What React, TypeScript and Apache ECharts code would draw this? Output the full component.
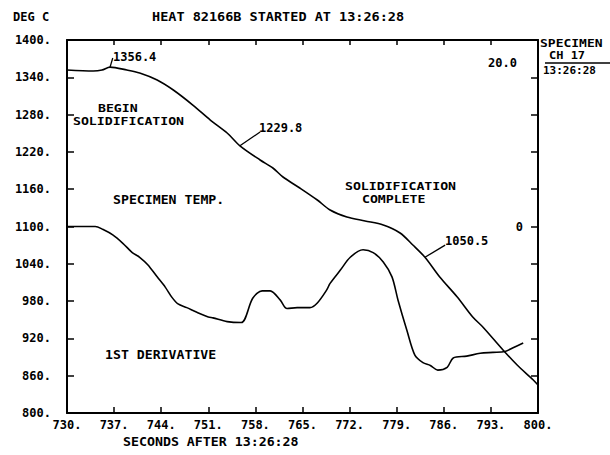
import React, { useEffect, useRef } from "react";
import * as echarts from "echarts";

// Specimen temperature (deg C) vs seconds after 13:26:28
const tempSeconds = [730.0, 733.9, 735.2, 736.4, 738.9, 740.8, 743.4, 745.8, 748.7, 751.3, 753.8, 755.7, 758.7, 760.6, 762.1, 764.6, 767.2, 769.1, 771.6, 774.3, 777.0, 779.5, 781.4, 783.2, 785.4, 788.0, 790.3, 791.8, 794.8, 796.9, 799.3, 800.0];
const tempValues = [1351.7, 1350.1, 1351.7, 1356.4, 1351.7, 1346.9, 1335.7, 1319.6, 1295.4, 1271.3, 1250.4, 1229.8, 1207.0, 1194.1, 1179.6, 1161.9, 1142.6, 1126.6, 1115.3, 1108.9, 1102.4, 1089.6, 1070.3, 1050.5, 1018.8, 986.6, 954.4, 938.4, 901.4, 877.2, 853.1, 845.1];

// 1st derivative (right-hand scale, 0 at the 1100 level, 20.0 at top)
const derivSeconds = [730.0, 734.2, 735.3, 736.8, 738.3, 739.7, 740.8, 742.0, 743.4, 744.6, 745.6, 746.5, 747.8, 749.3, 751.0, 751.7, 753.8, 755.9, 757.6, 759.0, 760.2, 761.7, 762.7, 764.2, 766.1, 767.2, 768.6, 769.1, 770.6, 772.1, 774.0, 775.5, 777.0, 778.3, 779.2, 780.5, 781.7, 782.9, 784.0, 785.1, 786.5, 787.4, 789.4, 791.4, 793.3, 795.1, 796.3, 797.8];
const derivValues = [0.0, 0.0, -0.3, -0.9, -1.8, -2.8, -3.3, -4.1, -5.4, -6.5, -7.6, -8.3, -8.7, -9.2, -9.7, -9.8, -10.2, -10.3, -7.7, -6.9, -6.9, -7.9, -8.8, -8.7, -8.7, -8.2, -6.8, -6.1, -4.7, -3.3, -2.5, -2.8, -3.8, -5.4, -7.9, -11.1, -13.8, -14.6, -14.9, -15.4, -15.1, -14.1, -13.9, -13.6, -13.5, -13.4, -13.0, -12.5];

// Axis ranges
const xRange = { min: 730, max: 800, step: 7 };
const tempRange = { min: 800, max: 1400, step: 60 };
const derivRange = { min: -20, max: 20, step: 4 };

// Annotated values
const peakLabels = ["1356.4", "1229.8", "1050.5"];

const FONT = '"DejaVu Sans Mono", monospace';

export default function App() {
  const ref = useRef<HTMLDivElement>(null);

  useEffect(() => {
    if (!ref.current) return;
    const chart = echarts.init(ref.current, undefined, { renderer: "svg" });

    const txt = (text: string, x: number, y: number, size = 12, sx = 1) => ({
      type: "text",
      x,
      y,
      scaleX: sx,
      silent: true,
      style: {
        text,
        fill: "#000",
        font: `bold ${size}px ${FONT}`,
        fontFamily: FONT,
        fontSize: size,
        fontWeight: "bold",
        align: "left",
        textAlign: "left",
        verticalAlign: "middle",
        textVerticalAlign: "middle",
      },
    });

    const axisColor = "#000";
    const labelStyle = { color: "#000", fontFamily: FONT, fontWeight: "bold" as const, fontSize: 12 };

    chart.setOption({
      animation: false,
      backgroundColor: "#fff",
      grid: { left: 67, right: 72, top: 40, bottom: 42, containLabel: false },
      xAxis: [
        {
          type: "value",
          min: xRange.min,
          max: xRange.max,
          interval: xRange.step,
          position: "bottom",
          axisLine: { show: true, onZero: false, lineStyle: { color: axisColor, width: 2 } },
          axisTick: { show: true, inside: true, length: 6, lineStyle: { color: axisColor, width: 1.5 } },
          axisLabel: { ...labelStyle, formatter: (v: number) => `${v}.`, margin: 6 },
          splitLine: { show: false },
        },
        {
          type: "value",
          min: xRange.min,
          max: xRange.max,
          interval: xRange.step,
          position: "top",
          axisLine: { show: true, onZero: false, lineStyle: { color: axisColor, width: 2 } },
          axisTick: { show: true, inside: true, length: 5, lineStyle: { color: axisColor, width: 1.5 } },
          axisLabel: { show: false },
          splitLine: { show: false },
        },
      ],
      yAxis: [
        {
          type: "value",
          min: tempRange.min,
          max: tempRange.max,
          interval: tempRange.step,
          position: "left",
          axisLine: { show: true, onZero: false, lineStyle: { color: axisColor, width: 2 } },
          axisTick: { show: true, inside: true, length: 7, lineStyle: { color: axisColor, width: 1.5 } },
          axisLabel: { ...labelStyle, formatter: (v: number) => `${v}.`, margin: 16 },
          splitLine: { show: false },
        },
        {
          type: "value",
          min: derivRange.min,
          max: derivRange.max,
          interval: derivRange.step,
          position: "right",
          axisLine: { show: true, onZero: false, lineStyle: { color: axisColor, width: 2 } },
          axisTick: { show: true, inside: true, length: 7, lineStyle: { color: axisColor, width: 1.5 } },
          axisLabel: {
            ...labelStyle,
            inside: true,
            margin: 15,
            formatter: (v: number) => (v === 0 ? "0" : ""),
          },
          splitLine: { show: false },
        },
      ],
      series: [
        {
          name: "SPECIMEN TEMP.",
          type: "line",
          xAxisIndex: 0,
          yAxisIndex: 0,
          showSymbol: false,
          symbol: "none",
          smooth: 0.3,
          data: tempSeconds.map((x, i) => [x, tempValues[i]]),
          lineStyle: { color: "#000", width: 1.6 },
          markLine: {
            silent: true,
            symbol: ["none", "none"],
            label: { show: false },
            lineStyle: { color: "#000", width: 1.3, type: "solid" },
            data: [
              [{ coord: [tempSeconds[3], tempValues[3]] }, { coord: [736.8, 1371] }],
              [{ coord: [tempSeconds[11], tempValues[11]] }, { coord: [758.7, 1252] }],
              [{ coord: [tempSeconds[23], tempValues[23]] }, { coord: [786.2, 1070] }],
            ],
          },
        },
        {
          name: "1ST DERIVATIVE",
          type: "line",
          xAxisIndex: 0,
          yAxisIndex: 1,
          showSymbol: false,
          symbol: "none",
          smooth: 0.3,
          data: derivSeconds.map((x, i) => [x, derivValues[i]]),
          lineStyle: { color: "#000", width: 1.6 },
        },
      ],
      graphic: [
        txt("DEG C", 13, 17),
        txt("HEAT 82166B STARTED AT 13:26:28", 152, 17, 13, 1.04),
        txt(peakLabels[0], 113, 57),
        txt(peakLabels[1], 259, 128),
        txt(peakLabels[2], 445, 241),
        txt("20.0", 488, 63),
        txt("BEGIN", 98, 108, 11, 1.2),
        txt("SOLIDIFICATION", 73, 121, 11, 1.2),
        txt("SPECIMEN TEMP.", 113, 200, 12, 1.1),
        txt("SOLIDIFICATION", 345, 186, 11, 1.2),
        txt("COMPLETE", 362, 199, 11, 1.2),
        txt("1ST DERIVATIVE", 105, 355, 12, 1.1),
        txt("SPECIMEN", 540, 44, 10, 1.3),
        txt("CH 17", 549, 56, 10, 1.2),
        {
          type: "line",
          silent: true,
          shape: { x1: 545, y1: 63, x2: 610, y2: 63 },
          style: { stroke: "#000", lineWidth: 1.5 },
        },
        txt("13:26:28", 543, 70, 10, 1.1),
        txt("SECONDS AFTER 13:26:28", 123, 442, 13, 1.02),
      ],
    });

    return () => chart.dispose();
  }, []);

  return (
    <div
      ref={ref}
      style={{ position: "fixed", left: 0, top: 0, width: 610, height: 455, background: "#fff" }}
    />
  );
}
